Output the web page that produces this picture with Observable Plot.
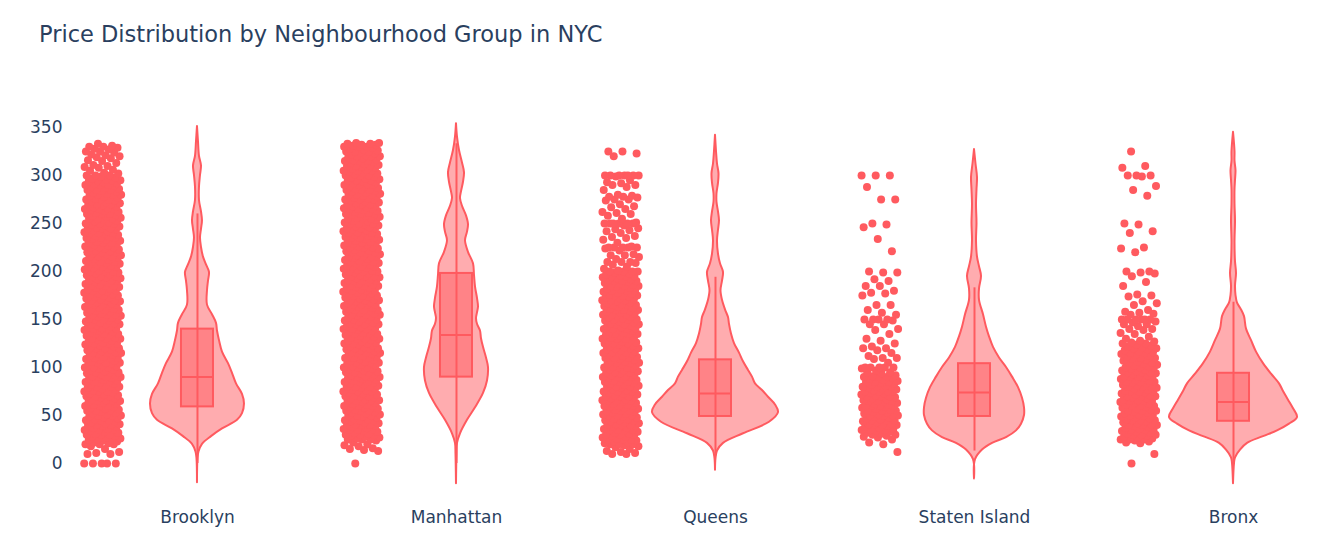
<!DOCTYPE html>
<html><head><meta charset="utf-8">
<script src="https://cdn.jsdelivr.net/npm/d3@7"></script>
<script src="https://cdn.jsdelivr.net/npm/@observablehq/plot@0.6"></script>
<style>
body{margin:0;background:#fff;font-family:"DejaVu Sans",sans-serif;}
#title{height:37px;padding:23px 0 0 39px;font-size:22.5px;line-height:22.5px;color:#2a3f5f;white-space:nowrap;}
</style></head><body>
<div id="title">Price Distribution by Neighbourhood Group in NYC</div>
<div id="chart"></div>
<script>
const groups = ["Brooklyn","Manhattan","Queens","Staten Island","Bronx"];
const yTicks = [0,50,100,150,200,250,300,350];

// box statistics
const q1 =     [59, 90, 49, 49, 44];
const median = [90, 134, 73, 74, 64];
const q3 =     [140, 198, 108, 104, 94];
const whiskerLow =  [0, 0, 10, 13, 0];
const whiskerHigh = [260, 333, 194, 183, 168];

// violin outlines: [price, relative density]
const brooklynViolin = [[-20,0],[5,0.5],[12,1.5],[20,5],[28,14],[36,25],[45,40],[52,45],[62,47],[72,45],[83,39],[94,35],[104,31],[116,25],[128,22],[138,20],[146,19],[155,15],[165,10],[180,10],[190,11],[199,12],[207,9],[215,6],[225,4],[235,3],[244,4],[253,5],[262,4],[274,2],[288,2],[300,3],[310,4],[320,2],[335,1],[351,0]];
const manhattanViolin = [[-21,0],[10,0.5],[21,1],[31,4],[45,11],[58,19],[73,27],[86,31],[100,32],[110,30],[121,27],[130,25],[138,24],[145,21],[151,20],[157,21],[163,22],[172,21],[184,19],[196,18],[208,17],[220,12],[232,9],[241,11],[249,12],[258,10],[268,6],[276,4],[283,5],[293,7],[303,8],[313,6],[326,3],[340,1],[354,0]];
const queensViolin = [[-7,0],[5,0.5],[13,2],[21,8],[31,28],[43,54],[53,63],[61,60],[69,53],[76,47],[83,40],[90,37],[97,33],[106,28],[115,24],[125,19],[135,16],[145,14],[152,13],[160,10],[170,7],[180,5.5],[190,7],[199,8],[208,5],[218,3],[232,2],[243,3],[253,4],[262,3],[272,1.5],[281,1.5],[292,3],[302,3.5],[312,2],[325,1],[342,0]];
const statenViolin = [[-16,0],[4,1],[14,8],[21,18],[27,32],[34,42],[41,47],[50,50],[58,50],[68,48],[79,44],[90,38],[100,32],[110,25],[121,19],[132,15],[142,12],[155,9],[170,5],[182,5],[195,7],[205,5],[215,3],[232,2],[250,2.5],[270,2],[285,2.5],[298,3],[312,1.5],[327,0]];
const bronxViolin = [[-21,0],[0,1],[6,2],[14,7],[21,14],[28,30],[34,44],[41,56],[48,64],[57,60],[66,55],[75,50],[83,46],[93,38],[104,30],[116,23],[128,18],[140,13],[153,11],[160,8],[167,4],[175,2.5],[185,2],[198,3],[210,2],[230,1.5],[253,2],[270,1.5],[285,1.5],[295,2],[305,2.5],[315,1.5],[325,1.5],[345,0]];

// listing prices (points); round prices occur several times
const brooklynPrices = [0,0,0,0,0,10,10,11,12,15,18,
20,20,20,21,22,23,24,25,25,25,26,27,28,29,30,30,30,31,32,33,34,35,35,35,36,37,38,39,
40,40,40,41,42,43,44,45,45,45,46,47,48,49,50,50,50,51,52,53,54,55,55,55,56,57,58,59,
60,60,60,61,62,63,64,65,65,65,66,67,68,69,70,70,70,71,72,73,74,75,75,75,76,77,78,79,
80,80,80,81,82,83,84,85,85,85,86,87,88,89,90,90,90,91,92,93,94,95,95,95,96,97,98,99,
100,100,100,101,102,103,104,105,105,105,106,107,108,109,110,110,110,111,112,113,114,115,115,115,116,117,118,119,
120,120,120,121,122,123,124,125,125,125,126,127,128,129,130,130,130,131,132,133,134,135,135,135,136,137,138,139,
140,140,140,141,142,143,144,145,145,145,146,147,148,149,150,150,150,151,152,153,154,155,155,155,156,157,158,159,
160,160,160,161,162,163,164,165,165,165,166,167,168,169,170,170,170,171,172,173,174,175,175,175,176,177,178,179,
180,180,180,181,182,183,184,185,185,185,186,187,188,189,190,190,190,191,192,193,194,195,195,195,196,197,198,199,
200,200,200,201,202,203,204,205,205,205,206,207,208,209,210,210,210,211,212,213,214,215,215,215,216,217,218,219,
220,220,220,221,222,223,224,225,225,225,226,227,228,229,230,230,230,231,232,233,234,235,235,235,236,237,238,239,
240,240,240,241,242,243,244,245,245,245,246,247,248,249,250,250,250,251,252,253,254,255,255,255,256,257,258,259,
260,260,260,261,262,263,264,265,265,265,266,267,268,269,270,270,270,271,272,273,274,275,275,275,276,277,278,279,
280,280,280,281,282,283,284,285,285,285,286,287,288,289,290,290,290,291,292,293,294,295,295,295,296,297,298,299,300,300,300,
302,303,305,306,308,309,310,311,313,315,316,318,319,320,321,322,324,325,325,327,328,329,330,330,331,333];
const manhattanPrices = [0,13,14,15,16,18,19,20,22,
24,25,25,25,26,27,28,29,30,30,30,31,32,33,34,35,35,35,36,37,38,39,
40,40,40,41,42,43,44,45,45,45,46,47,48,49,50,50,50,51,52,53,54,55,55,55,56,57,58,59,
60,60,60,61,62,63,64,65,65,65,66,67,68,69,70,70,70,71,72,73,74,75,75,75,76,77,78,79,
80,80,80,81,82,83,84,85,85,85,86,87,88,89,90,90,90,91,92,93,94,95,95,95,96,97,98,99,
100,100,100,101,102,103,104,105,105,105,106,107,108,109,110,110,110,111,112,113,114,115,115,115,116,117,118,119,
120,120,120,121,122,123,124,125,125,125,126,127,128,129,130,130,130,131,132,133,134,135,135,135,136,137,138,139,
140,140,140,141,142,143,144,145,145,145,146,147,148,149,150,150,150,151,152,153,154,155,155,155,156,157,158,159,
160,160,160,161,162,163,164,165,165,165,166,167,168,169,170,170,170,171,172,173,174,175,175,175,176,177,178,179,
180,180,180,181,182,183,184,185,185,185,186,187,188,189,190,190,190,191,192,193,194,195,195,195,196,197,198,199,
200,200,200,201,202,203,204,205,205,205,206,207,208,209,210,210,210,211,212,213,214,215,215,215,216,217,218,219,
220,220,220,221,222,223,224,225,225,225,226,227,228,229,230,230,230,231,232,233,234,235,235,235,236,237,238,239,
240,240,240,241,242,243,244,245,245,245,246,247,248,249,250,250,250,251,252,253,254,255,255,255,256,257,258,259,
260,260,260,261,262,263,264,265,265,265,266,267,268,269,270,270,270,271,272,273,274,275,275,275,276,277,278,279,
280,280,280,281,282,283,284,285,285,285,286,287,288,289,290,290,290,291,292,293,294,295,295,295,296,297,298,299,
300,300,300,301,302,303,304,305,305,305,306,307,308,309,310,310,310,311,312,313,314,315,315,315,316,317,318,319,
320,320,320,321,322,323,324,325,325,325,326,327,328,329,330,330,330,331,332,332,333,333,334,334];
const queensPrices = [10,10,11,12,13,15,17,18,19,
20,20,20,21,22,23,24,25,25,25,26,27,28,29,30,30,30,31,32,33,34,35,35,35,36,37,38,39,
40,40,40,41,42,43,44,45,45,45,46,47,48,49,50,50,50,51,52,53,54,55,55,55,56,57,58,59,
60,60,60,61,62,63,64,65,65,65,66,67,68,69,70,70,70,71,72,73,74,75,75,75,76,77,78,79,
80,80,80,81,82,83,84,85,85,85,86,87,88,89,90,90,90,91,92,93,94,95,95,95,96,97,98,99,
100,100,100,101,102,103,104,105,105,105,106,107,108,109,110,110,110,111,112,113,114,115,115,115,116,117,118,119,
120,120,120,121,122,123,124,125,125,125,126,127,128,129,130,130,130,131,132,133,134,135,135,135,136,137,138,139,
140,140,140,141,142,143,144,145,145,145,146,147,148,149,150,150,150,151,152,153,154,155,155,155,156,157,158,159,
160,160,160,161,162,163,164,165,165,165,166,167,168,169,170,170,170,171,172,173,174,175,175,175,176,177,178,179,
180,180,180,181,182,183,184,185,185,185,186,187,188,189,190,190,190,191,192,193,194,195,195,195,196,197,198,199,
200,200,200,200,201,203,205,207,209,210,210,210,213,215,217,217,218,
222,224,225,225,225,225,225,226,230,233,235,236,237,240,242,243,244,245,
248,250,250,250,250,250,250,251,255,258,260,261,262,265,267,268,
270,274,275,275,277,278,278,279,280,285,288,290,290,292,293,295,299,
300,300,300,300,300,300,300,320,323,325,325];
const statenPrices = [12,20,22,25,27,28,29,
30,30,31,32,33,34,35,35,35,36,37,38,39,40,40,40,41,42,43,44,45,45,45,46,47,48,49,50,50,50,50,
51,52,53,54,55,55,55,56,57,58,59,60,60,60,60,61,62,63,64,65,65,65,66,67,68,69,70,70,70,
71,72,73,74,75,75,75,75,76,77,78,79,80,80,80,81,82,83,84,85,85,85,86,87,88,89,90,90,90,91,92,94,95,95,97,99,
100,100,100,100,100,105,109,110,110,112,115,118,120,120,122,125,128,130,135,139,140,
145,145,149,150,150,150,150,155,157,160,165,165,175,177,178,180,185,185,190,192,199,199,200,
221,234,246,249,250,275,275,288,300,300,300];
const bronxPrices = [0,10,
21,22,23,24,25,25,25,26,27,28,29,30,30,30,31,32,33,34,35,35,35,36,37,38,39,40,40,40,
41,42,43,44,45,45,45,46,47,48,49,50,50,50,51,52,53,54,55,55,55,56,57,58,59,60,60,60,
61,62,63,64,65,65,65,66,67,68,69,70,70,70,71,72,73,74,75,75,75,76,77,78,79,80,80,80,
81,82,83,84,85,85,85,86,87,88,89,90,90,90,91,92,93,94,95,95,95,96,97,98,99,100,100,100,
101,102,103,104,105,105,106,107,108,109,110,110,111,112,113,114,115,115,116,117,118,119,120,120,
121,122,123,124,125,125,126,127,128,
130,132,135,136,139,140,140,143,145,145,147,148,150,150,150,150,150,150,
155,156,157,158,160,165,167,169,174,175,176,185,189,195,198,199,200,200,
220,224,225,240,242,249,250,279,285,289,299,300,300,300,308,310,325];

const priceLists = [brooklynPrices, manhattanPrices, queensPrices, statenPrices, bronxPrices];
const violinLists = [brooklynViolin, manhattanViolin, queensViolin, statenViolin, bronxViolin];

const color = "#ff5a5f";
const pointOffset = -0.366, jitterHalf = 0.0714, boxHalf = 0.0618, widthPerDensity = 1/259;

const points = [];
priceLists.forEach((list, gi) => list.forEach((p, i) => {
  points.push({gi, price: p, j: (((i + gi * 7) * 0.6180339887) % 1) * 2 - 1});
}));
const violin = [];
violinLists.forEach((list, gi) => list.forEach(([price, d]) => violin.push({gi, price, d})));
const boxes = groups.map((g, gi) => ({gi, q1: q1[gi], med: median[gi], q3: q3[gi], lo: whiskerLow[gi], hi: whiskerHigh[gi]}));

const chart = Plot.plot({
  width: 1332, height: 497,
  marginLeft: 68, marginRight: 20, marginTop: 55.5, marginBottom: 67.1,
  x: {domain: [-0.498, 4.305]},
  y: {domain: [-28, 362]},
  style: {fontFamily: "DejaVu Sans", fontSize: "17px", color: "#2a3f5f", background: "white"},
  marks: [
    Plot.axisY({ticks: yTicks, tickSize: 0, tickPadding: 6, label: null, fontSize: 17}),
    Plot.axisX({ticks: [0,1,2,3,4], tickFormat: i => groups[i], tickSize: 0, tickPadding: 21, label: null, fontSize: 17}),
    Plot.dot(points, {x: d => d.gi + pointOffset + d.j * jitterHalf, y: "price", r: 4, fill: color}),
    Plot.areaX(violin, {y: "price", x1: d => d.gi - d.d * widthPerDensity, x2: d => d.gi + d.d * widthPerDensity, z: "gi",
      fill: color, fillOpacity: 0.5, stroke: color, strokeWidth: 2, curve: "catmull-rom"}),
    Plot.ruleX(boxes, {x: "gi", y1: "lo", y2: "hi", stroke: color, strokeWidth: 2}),
    Plot.rect(boxes, {x1: d => d.gi - boxHalf, x2: d => d.gi + boxHalf, y1: "q1", y2: "q3",
      fill: color, fillOpacity: 0.5, stroke: color, strokeWidth: 2}),
    Plot.ruleY(boxes, {y: "med", x1: d => d.gi - boxHalf, x2: d => d.gi + boxHalf, stroke: color, strokeWidth: 2})
  ]
});
document.getElementById("chart").appendChild(chart);
</script>
</body></html>
